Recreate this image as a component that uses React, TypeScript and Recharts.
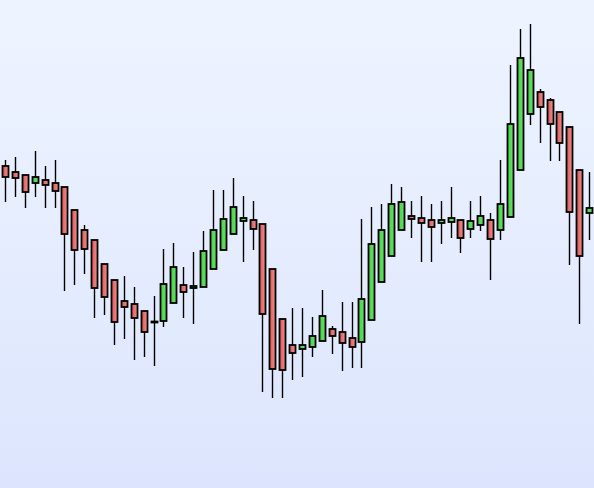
import React from 'react'
import { ComposedChart, Bar, XAxis, YAxis } from 'recharts'

const openPrices = [
  322, 316, 313, 305, 308, 305, 301, 278, 258, 248,
  224, 208, 187, 184, 177, 166.5, 167, 185, 203, 200,
  201, 219, 238, 254, 267, 268, 264, 219, 169, 143,
  139, 141, 147, 159, 156, 150, 146, 168, 206, 232,
  258, 272, 270, 268, 265, 266, 268, 259, 263, 268,
  258, 271, 318, 374, 396, 388, 376, 361, 318, 275,
]
const closePrices = [
  311, 310, 296, 311, 303, 297, 254, 238, 239, 200,
  191, 166, 181, 170, 156, 166.5, 204, 221, 196, 202,
  237, 258, 269, 281, 270, 259, 174, 119, 118, 135,
  143, 152, 172, 152, 145, 141, 189, 244, 258, 284,
  286, 269, 265, 261, 268, 270, 250, 267, 272, 249,
  284, 364, 430, 418, 381, 364, 345, 276, 232, 280,
]
const highPrices = [
  328, 331, 313, 337, 322, 328, 301, 278, 263, 248,
  224, 208, 212, 201, 177, 192, 239, 245, 221, 236,
  257, 298, 298, 310, 292, 287, 264, 219, 169, 180,
  180, 171, 198, 162, 186, 186, 269, 281, 284, 304,
  301, 287, 292, 284, 287, 301, 268, 287, 292, 275,
  328, 423, 459, 464, 399, 390, 376, 361, 318, 316,
]
const lowPrices = [
  286, 291, 280, 291, 280, 280, 197, 203, 214, 170,
  173, 143, 149, 128, 131, 122, 161, 185, 170, 164,
  201, 219, 238, 254, 226, 238, 96, 90, 90, 108,
  111, 131, 147, 134, 117, 120, 120, 168, 206, 232,
  258, 250, 226, 226, 244, 250, 235, 250, 257, 208,
  248, 271, 318, 363, 345, 327, 327, 223, 164, 248,
]

const data = openPrices.map((open, i) => ({
  idx: i,
  open,
  close: closePrices[i],
  high: highPrices[i],
  low: lowPrices[i],
}))

function Candle(props: any) {
  const { x, y, width, height, payload } = props
  if (!payload) return null
  const { open, close, high, low } = payload
  const ratio = height / (high - low)
  const cx = Math.round(x + width / 2) + 0.5
  const top = y + (high - Math.max(open, close)) * ratio
  const bottom = y + (high - Math.min(open, close)) * ratio
  const bodyH = Math.max(bottom - top, 1)
  const up = close > open
  const fill = open === close ? '#000' : up ? 'url(#greenBody)' : 'url(#redBody)'
  return (
    <g>
      <line x1={cx} x2={cx} y1={y} y2={y + height} stroke="#000" strokeWidth={1.4} />
      <rect
        x={cx - 3}
        y={top}
        width={6}
        height={bodyH}
        fill={fill}
        stroke="#000"
        strokeWidth={1.8}
      />
    </g>
  )
}

export default function App() {
  return (
    <div
      style={{
        position: 'absolute',
        left: 0,
        top: 0,
        width: 594,
        height: 488,
        background: 'linear-gradient(to bottom, #eef4ff 0%, #dce5fd 100%)',
      }}
    >
      <svg width={0} height={0} style={{ position: 'absolute' }}>
        <defs>
          <linearGradient id="redBody" x1="0" y1="0" x2="1" y2="0">
            <stop offset="0%" stopColor="#dc5656" />
            <stop offset="100%" stopColor="#f29090" />
          </linearGradient>
          <linearGradient id="greenBody" x1="0" y1="0" x2="1" y2="0">
            <stop offset="0%" stopColor="#48d248" />
            <stop offset="100%" stopColor="#68e068" />
          </linearGradient>
        </defs>
      </svg>
      <ComposedChart
        width={594}
        height={488}
        data={data}
        margin={{ top: 0, right: 0, bottom: 0, left: 0 }}
        barCategoryGap={0}
      >
        <XAxis dataKey="idx" hide />
        <YAxis hide domain={[0, 488]} />
        <Bar
          dataKey={(d: any) => [d.low, d.high]}
          shape={<Candle />}
          isAnimationActive={false}
        />
      </ComposedChart>
    </div>
  )
}
